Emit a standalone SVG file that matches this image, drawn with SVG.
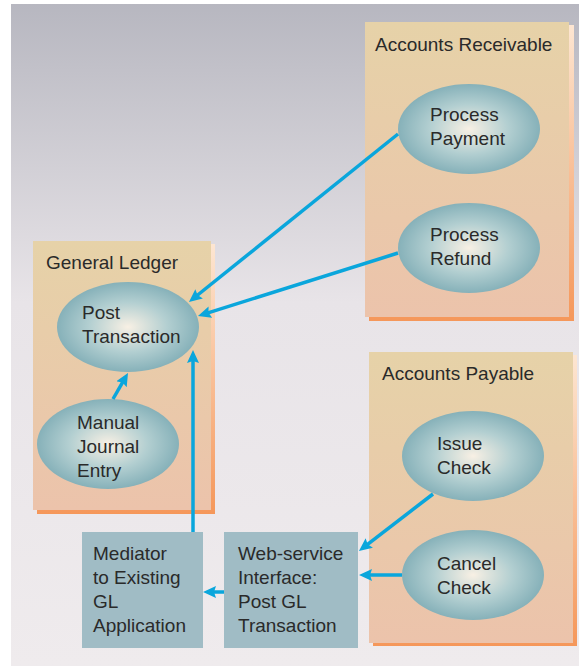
<svg xmlns="http://www.w3.org/2000/svg" width="579" height="666" viewBox="0 0 579 666">
  <defs>
    <linearGradient id="bg" x1="0" y1="0" x2="0" y2="1">
      <stop offset="0" stop-color="#b7b7c0"/>
      <stop offset="0.45" stop-color="#e8e4e8"/>
      <stop offset="1" stop-color="#efebed"/>
    </linearGradient>
    <linearGradient id="panel" x1="0" y1="0" x2="0" y2="1">
      <stop offset="0" stop-color="#e6d2a8"/>
      <stop offset="1" stop-color="#ecc3ab"/>
    </linearGradient>
    <linearGradient id="panelShadow" x1="0" y1="0" x2="0" y2="1">
      <stop offset="0" stop-color="#fde6d2"/>
      <stop offset="1" stop-color="#f5975a"/>
    </linearGradient>
    <radialGradient id="oval" cx="0.5" cy="0.5" r="0.5">
      <stop offset="0" stop-color="#f8f0e4"/>
      <stop offset="0.55" stop-color="#b3cfd1"/>
      <stop offset="1" stop-color="#86b1b9"/>
    </radialGradient>
    <marker id="arrow" viewBox="0 0 13 12" markerWidth="13" markerHeight="12" refX="5" refY="6" orient="auto" markerUnits="userSpaceOnUse">
      <path d="M0,0 L13,6 L0,12 L2,6 z" fill="#0aa6dc"/>
    </marker>
  </defs>
  <style>
    text { font-family: "Liberation Sans", Arial, sans-serif; font-size: 19px; fill: #2a2a2a; }
    .panel { fill: url(#panel); }
    .shadow { fill: url(#panelShadow); }
    .oval { fill: url(#oval); }
    .box { fill: #a0bcc5; }
    .conn { stroke: #0aa6dc; stroke-width: 3.5; fill: none; marker-end: url(#arrow); }
  </style>

  <!-- backdrop -->
  <rect x="0" y="0" width="579" height="666" fill="#ffffff"/>
  <rect x="11" y="4" width="568" height="662" fill="url(#bg)"/>

  <!-- Accounts Receivable swimlane -->
  <g id="accounts-receivable">
    <rect class="shadow" x="369" y="25" width="205" height="296"/>
    <rect class="panel" x="365" y="22" width="204" height="295"/>
    <text x="375" y="51">Accounts Receivable</text>
  </g>
  <g id="process-payment">
    <ellipse class="oval" cx="469" cy="129" rx="71" ry="45"/>
    <text x="430" y="121">Process</text>
    <text x="430" y="145">Payment</text>
  </g>
  <g id="process-refund">
    <ellipse class="oval" cx="469" cy="248" rx="71" ry="45"/>
    <text x="430" y="241">Process</text>
    <text x="430" y="265">Refund</text>
  </g>

  <!-- General Ledger swimlane -->
  <g id="general-ledger">
    <rect class="shadow" x="37" y="244" width="178" height="270"/>
    <rect class="panel" x="33" y="241" width="178" height="269"/>
    <text x="46" y="269">General Ledger</text>
  </g>
  <g id="post-transaction">
    <ellipse class="oval" cx="128" cy="327" rx="71" ry="45"/>
    <text x="82" y="319">Post</text>
    <text x="82" y="343">Transaction</text>
  </g>
  <g id="manual-journal-entry">
    <ellipse class="oval" cx="108" cy="444" rx="71" ry="45"/>
    <text x="77" y="429">Manual</text>
    <text x="77" y="453">Journal</text>
    <text x="77" y="477">Entry</text>
  </g>

  <!-- Accounts Payable swimlane -->
  <g id="accounts-payable">
    <rect class="shadow" x="373" y="355" width="204" height="291"/>
    <rect class="panel" x="369" y="352" width="204" height="291"/>
    <text x="382" y="380">Accounts Payable</text>
  </g>
  <g id="issue-check">
    <ellipse class="oval" cx="473" cy="456" rx="71" ry="45"/>
    <text x="437" y="450">Issue</text>
    <text x="437" y="474">Check</text>
  </g>
  <g id="cancel-check">
    <ellipse class="oval" cx="473" cy="575" rx="71" ry="45"/>
    <text x="437" y="570">Cancel</text>
    <text x="437" y="594">Check</text>
  </g>

  <!-- integration boxes -->
  <g id="web-service">
    <rect class="box" x="224" y="532" width="134" height="116"/>
    <text x="238" y="560">Web-service</text>
    <text x="238" y="584">Interface:</text>
    <text x="238" y="608">Post GL</text>
    <text x="238" y="632">Transaction</text>
  </g>
  <g id="mediator">
    <rect class="box" x="82" y="532" width="121" height="116"/>
    <text x="93" y="560">Mediator</text>
    <text x="93" y="584">to Existing</text>
    <text x="93" y="608">GL</text>
    <text x="93" y="632">Application</text>
  </g>

  <!-- connectors -->
  <g id="connectors">
    <path class="conn" d="M398,134 L195.2,297"/>
    <path class="conn" d="M398,253 L205.6,313.6"/>
    <path class="conn" d="M113,399 L124,379.9"/>
    <path class="conn" d="M193,532 L193,358"/>
    <path class="conn" d="M433,494 L365.3,546.1"/>
    <path class="conn" d="M402,575 L367,575"/>
    <path class="conn" d="M224,592 L211,592"/>
  </g>
</svg>
